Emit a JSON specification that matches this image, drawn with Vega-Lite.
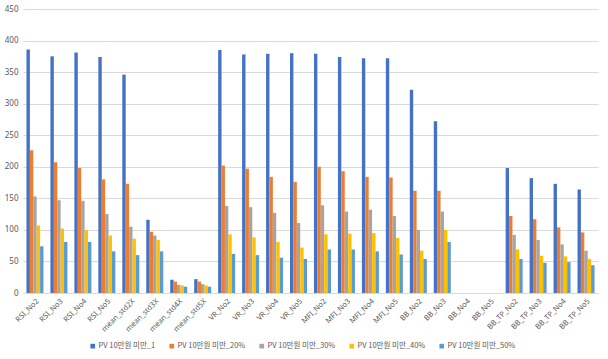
{
  "$schema": "https://vega.github.io/schema/vega-lite/v6.json",
  "autosize": {"type": "none"},
  "padding": {"left": 23, "top": 9, "right": 10, "bottom": 66},
  "width": 575,
  "height": 284,
  "background": "white",
  "data": {"values": [
    {"cat": "RSI_No2", "PV 10만원 미만_1": 386, "PV 10만원 미만_20%": 226, "PV 10만원 미만_30%": 153, "PV 10만원 미만_40%": 107, "PV 10만원 미만_50%": 74},
    {"cat": "RSI_No3", "PV 10만원 미만_1": 375, "PV 10만원 미만_20%": 207, "PV 10만원 미만_30%": 147, "PV 10만원 미만_40%": 102, "PV 10만원 미만_50%": 81},
    {"cat": "RSI_No4", "PV 10만원 미만_1": 381, "PV 10만원 미만_20%": 198, "PV 10만원 미만_30%": 146, "PV 10만원 미만_40%": 100, "PV 10만원 미만_50%": 81},
    {"cat": "RSI_No5", "PV 10만원 미만_1": 374, "PV 10만원 미만_20%": 180, "PV 10만원 미만_30%": 125, "PV 10만원 미만_40%": 91, "PV 10만원 미만_50%": 66},
    {"cat": "mean_std2X", "PV 10만원 미만_1": 346, "PV 10만원 미만_20%": 173, "PV 10만원 미만_30%": 105, "PV 10만원 미만_40%": 86, "PV 10만원 미만_50%": 60},
    {"cat": "mean_std3X", "PV 10만원 미만_1": 116, "PV 10만원 미만_20%": 97, "PV 10만원 미만_30%": 91, "PV 10만원 미만_40%": 84, "PV 10만원 미만_50%": 66},
    {"cat": "mean_std4X", "PV 10만원 미만_1": 21, "PV 10만원 미만_20%": 18, "PV 10만원 미만_30%": 13, "PV 10만원 미만_40%": 12, "PV 10만원 미만_50%": 10},
    {"cat": "mean_std5X", "PV 10만원 미만_1": 22, "PV 10만원 미만_20%": 18, "PV 10만원 미만_30%": 14, "PV 10만원 미만_40%": 12, "PV 10만원 미만_50%": 10},
    {"cat": "VR_No2", "PV 10만원 미만_1": 385, "PV 10만원 미만_20%": 202, "PV 10만원 미만_30%": 138, "PV 10만원 미만_40%": 93, "PV 10만원 미만_50%": 62},
    {"cat": "VR_No3", "PV 10만원 미만_1": 378, "PV 10만원 미만_20%": 197, "PV 10만원 미만_30%": 136, "PV 10만원 미만_40%": 88, "PV 10만원 미만_50%": 60},
    {"cat": "VR_No4", "PV 10만원 미만_1": 379, "PV 10만원 미만_20%": 184, "PV 10만원 미만_30%": 127, "PV 10만원 미만_40%": 81, "PV 10만원 미만_50%": 56},
    {"cat": "VR_No5", "PV 10만원 미만_1": 380, "PV 10만원 미만_20%": 176, "PV 10만원 미만_30%": 111, "PV 10만원 미만_40%": 72, "PV 10만원 미만_50%": 54},
    {"cat": "MFI_No2", "PV 10만원 미만_1": 379, "PV 10만원 미만_20%": 200, "PV 10만원 미만_30%": 139, "PV 10만원 미만_40%": 93, "PV 10만원 미만_50%": 69},
    {"cat": "MFI_No3", "PV 10만원 미만_1": 374, "PV 10만원 미만_20%": 193, "PV 10만원 미만_30%": 129, "PV 10만원 미만_40%": 94, "PV 10만원 미만_50%": 69},
    {"cat": "MFI_No4", "PV 10만원 미만_1": 372, "PV 10만원 미만_20%": 184, "PV 10만원 미만_30%": 132, "PV 10만원 미만_40%": 95, "PV 10만원 미만_50%": 66},
    {"cat": "MFI_No5", "PV 10만원 미만_1": 372, "PV 10만원 미만_20%": 183, "PV 10만원 미만_30%": 122, "PV 10만원 미만_40%": 87, "PV 10만원 미만_50%": 61},
    {"cat": "BB_No2", "PV 10만원 미만_1": 322, "PV 10만원 미만_20%": 162, "PV 10만원 미만_30%": 100, "PV 10만원 미만_40%": 67, "PV 10만원 미만_50%": 54},
    {"cat": "BB_No3", "PV 10만원 미만_1": 272, "PV 10만원 미만_20%": 162, "PV 10만원 미만_30%": 129, "PV 10만원 미만_40%": 100, "PV 10만원 미만_50%": 81},
    {"cat": "BB_TP_No2", "PV 10만원 미만_1": 198, "PV 10만원 미만_20%": 122, "PV 10만원 미만_30%": 92, "PV 10만원 미만_40%": 69, "PV 10만원 미만_50%": 54},
    {"cat": "BB_TP_No3", "PV 10만원 미만_1": 182, "PV 10만원 미만_20%": 117, "PV 10만원 미만_30%": 84, "PV 10만원 미만_40%": 59, "PV 10만원 미만_50%": 48},
    {"cat": "BB_TP_No4", "PV 10만원 미만_1": 173, "PV 10만원 미만_20%": 104, "PV 10만원 미만_30%": 77, "PV 10만원 미만_40%": 58, "PV 10만원 미만_50%": 49},
    {"cat": "BB_TP_No5", "PV 10만원 미만_1": 164, "PV 10만원 미만_20%": 96, "PV 10만원 미만_30%": 67, "PV 10만원 미만_40%": 54, "PV 10만원 미만_50%": 44}
  ]},
  "transform": [
    {"fold": ["PV 10만원 미만_1", "PV 10만원 미만_20%", "PV 10만원 미만_30%", "PV 10만원 미만_40%", "PV 10만원 미만_50%"], "as": ["series", "value"]}
  ],
  "mark": {"type": "bar"},
  "encoding": {
    "x": {
      "field": "cat", "type": "nominal", "title": null,
      "scale": {
        "domain": ["RSI_No2","RSI_No3","RSI_No4","RSI_No5","mean_std2X","mean_std3X","mean_std4X","mean_std5X","VR_No2","VR_No3","VR_No4","VR_No5","MFI_No2","MFI_No3","MFI_No4","MFI_No5","BB_No2","BB_No3","BB_No4","BB_No5","BB_TP_No2","BB_TP_No3","BB_TP_No4","BB_TP_No5"],
        "paddingInner": 0.29, "paddingOuter": 0.145
      },
      "axis": {"labelAngle": -45, "labelFontSize": 7.5, "labelColor": "#595959", "labelFont": "Noto Sans", "ticks": false, "domainColor": "#D9D9D9", "labelPadding": 4}
    },
    "xOffset": {
      "field": "series", "type": "nominal",
      "sort": ["PV 10만원 미만_1", "PV 10만원 미만_20%", "PV 10만원 미만_30%", "PV 10만원 미만_40%", "PV 10만원 미만_50%"],
      "scale": {"paddingInner": 0, "paddingOuter": 0}
    },
    "y": {
      "field": "value", "type": "quantitative", "title": null,
      "scale": {"domain": [0, 450], "nice": false},
      "axis": {"values": [0,50,100,150,200,250,300,350,400,450], "labelFontSize": 8, "labelColor": "#595959", "labelFont": "Noto Sans", "ticks": false, "domain": false, "gridColor": "#D9D9D9", "labelPadding": 5}
    },
    "color": {
      "field": "series", "type": "nominal", "title": null,
      "scale": {
        "domain": ["PV 10만원 미만_1", "PV 10만원 미만_20%", "PV 10만원 미만_30%", "PV 10만원 미만_40%", "PV 10만원 미만_50%"],
        "range": ["#4472C4", "#ED7D31", "#A5A5A5", "#FFC000", "#5B9BD5"]
      },
      "legend": {
        "orient": "none", "direction": "horizontal", "legendX": 66, "legendY": 333,
        "symbolType": "square", "symbolSize": 22, "labelFontSize": 7.5, "labelColor": "#595959",
        "labelFont": "Noto Sans CJK KR", "columnPadding": 12, "symbolOffset": 0, "labelOffset": 2
      }
    }
  },
  "config": {"view": {"stroke": null}}
}
